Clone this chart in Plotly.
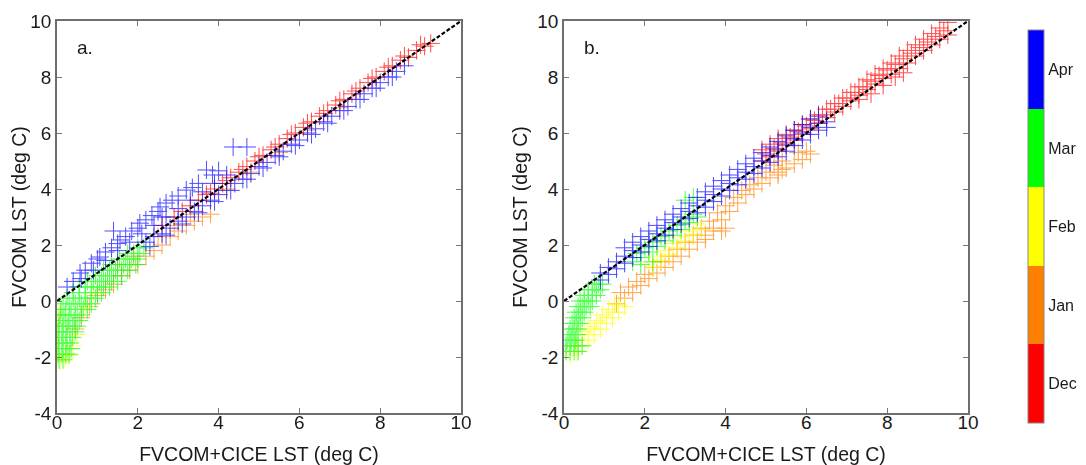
import plotly.graph_objects as go

months = ["Dec", "Jan", "Feb", "Mar", "Apr"]
month_colors = ["#FF0000", "#FF8000", "#FFFF00", "#00FF00", "#0000FF"]
y_tickvals = [-4, -2, 0, 2, 4, 6, 8, 10]
y_ticktext = ["-4", "-2", "0", "2", "4", "6", "8", "10"]
x_tickvals = [0, 2, 4, 6, 8, 10]
x_ticktext = ["0", "2", "4", "6", "8", "10"]
one_to_one = [0, 10]

# ---------------- Panel a ----------------
a_dec_x = [2.6, 2.9, 3.1, 3.3, 3.5, 3.7, 3.9, 4.1, 4.3, 4.5, 4.7, 4.9, 5.1, 5.3, 5.5, 5.7, 5.9, 6.1, 6.3, 6.5,
           6.7, 6.9, 7.1, 7.3, 7.5, 7.7, 7.9, 8.1, 8.3, 8.5, 8.7, 8.9, 9.1, 9.25, 9.0, 8.6, 8.2, 7.8, 7.4, 7.0,
           6.6, 6.2, 5.8, 5.4, 5.0, 4.6, 4.2, 3.8]
a_dec_y = [2.7, 3.0, 3.2, 3.4, 3.6, 3.8, 4.0, 4.2, 4.4, 4.6, 4.8, 5.0, 5.2, 5.4, 5.6, 5.8, 6.0, 6.2, 6.4, 6.6,
           6.8, 7.0, 7.2, 7.4, 7.6, 7.8, 8.0, 8.2, 8.4, 8.6, 8.7, 8.95, 9.1, 9.2, 9.15, 8.75, 8.35, 7.95, 7.5, 7.15,
           6.7, 6.35, 5.95, 5.5, 5.15, 4.7, 4.3, 3.85]
a_jan_x = [0.45, 0.6, 0.8, 1.0, 1.2, 1.4, 1.6, 1.8, 2.0, 2.2, 2.4, 2.6, 2.8, 3.0, 3.2, 3.4, 3.6, 3.8,
           2.5, 2.9, 3.3, 1.5, 1.9, 4.2, 4.8, 5.5, 6.2, 7.0]
a_jan_y = [-1.0, -0.6, -0.2, 0.2, 0.4, 0.6, 0.9, 1.1, 1.3, 1.6, 1.8, 2.0, 2.3, 2.5, 2.7, 2.85, 3.0, 3.1,
           2.3, 2.7, 3.1, 1.3, 1.6, 4.0, 4.6, 5.3, 6.1, 6.9]
a_feb_x = [0.0, 0.02, 0.0, 0.02, 0.0, 0.03, 0.08, 0.2, 0.3, 0.4, 0.5, 0.1, 0.7, 0.9]
a_feb_y = [-2.0, -1.7, -1.4, -1.1, -0.8, -0.5, -2.15, -2.05, -1.95, -1.6, -1.2, -0.3, -0.2, 0.3]
a_mar_x = [0.05, 0.15,
           0.03, 0.12, 0.22, 0.3,
           0.05, 0.15, 0.25, 0.35,
           0.03, 0.12, 0.22, 0.32,
           0.05, 0.15, 0.25, 0.38,
           0.03, 0.12, 0.22, 0.32, 0.45,
           0.05, 0.15, 0.25, 0.38, 0.5,
           0.05, 0.15, 0.28, 0.42, 0.55,
           0.08, 0.2, 0.32, 0.45, 0.6,
           0.1, 0.22, 0.35, 0.5, 0.65, 0.75,
           0.15, 0.3, 0.45, 0.6, 0.75, 0.85,
           0.25, 0.4, 0.55, 0.7, 0.85, 0.95,
           0.4, 0.55, 0.7, 0.85, 1.0, 1.1,
           0.55, 0.7, 0.85, 1.0, 1.15, 1.3,
           0.75, 0.9, 1.05, 1.2, 1.35, 1.5,
           0.95, 1.1, 1.25, 1.4, 1.6,
           1.15, 1.3, 1.45, 1.6, 1.75,
           1.35, 1.5, 1.65, 1.8, 1.95,
           1.55, 1.7, 1.85, 2.0,
           1.75, 1.9, 2.05,
           2.0, 2.15]
a_mar_y = [-2.1, -2.1,
           -1.9, -1.9, -1.9, -1.9,
           -1.7, -1.7, -1.7, -1.7,
           -1.5, -1.5, -1.5, -1.5,
           -1.3, -1.3, -1.3, -1.3,
           -1.1, -1.1, -1.1, -1.1, -1.1,
           -0.9, -0.9, -0.9, -0.9, -0.9,
           -0.7, -0.7, -0.7, -0.7, -0.7,
           -0.5, -0.5, -0.5, -0.5, -0.5,
           -0.3, -0.3, -0.3, -0.3, -0.3, -0.3,
           -0.1, -0.1, -0.1, -0.1, -0.1, -0.1,
           0.1, 0.1, 0.1, 0.1, 0.1, 0.1,
           0.3, 0.3, 0.3, 0.3, 0.3, 0.3,
           0.5, 0.5, 0.5, 0.5, 0.5, 0.5,
           0.7, 0.7, 0.7, 0.7, 0.7, 0.7,
           0.9, 0.9, 0.9, 0.9, 0.9,
           1.1, 1.1, 1.1, 1.1, 1.1,
           1.3, 1.3, 1.3, 1.3, 1.3,
           1.5, 1.5, 1.5, 1.5,
           1.7, 1.7, 1.7,
           1.9, 1.9]
a_apr_x = [2.2, 2.4, 2.6, 2.8, 3.0, 3.2, 3.4, 3.6, 3.8, 4.0, 4.2, 4.4, 4.6, 4.8, 5.0, 5.2, 5.4, 5.6, 5.8, 6.0,
           6.2, 6.4, 6.6, 6.8, 7.0, 7.2, 7.4, 7.6, 7.8, 8.0, 8.2, 8.4, 8.6,
           2.3, 2.7, 3.1, 3.5, 3.9, 4.3, 4.7, 5.1, 5.5, 5.9, 6.3, 6.7, 7.1, 7.5, 7.9, 8.3,
           0.25, 0.4, 0.57, 0.7, 0.85, 1.0, 1.06, 1.2, 1.35, 1.5, 1.56, 1.7, 1.85, 2.0, 2.05, 2.2, 2.35, 2.5,
           2.55, 2.7, 2.85, 3.0, 3.2, 3.35, 3.5, 3.7, 3.85, 4.0, 4.36, 4.7,
           0.6, 0.9, 1.2, 1.5, 1.8, 2.1, 2.4, 2.7, 3.0, 3.3, 3.6, 3.9, 4.2, 1.4, 2.6]
a_apr_y = [2.1, 2.3, 2.4, 2.6, 2.85, 3.0, 3.2, 3.4, 3.6, 3.8, 3.95, 4.2, 4.35, 4.55, 4.8, 4.95, 5.2, 5.35, 5.6, 5.75,
           6.0, 6.15, 6.4, 6.6, 6.8, 6.95, 7.2, 7.4, 7.6, 7.8, 8.0, 8.2, 8.4,
           1.95, 2.35, 2.75, 3.15, 3.55, 3.95, 4.35, 4.75, 5.15, 5.55, 5.95, 6.35, 6.8, 7.2, 7.6, 8.0,
           0.5, 0.7, 1.0, 1.1, 1.35, 1.5, 1.57, 1.75, 1.9, 2.05, 2.18, 2.3, 2.5, 2.6, 2.78, 2.9, 3.05, 3.2,
           3.36, 3.5, 3.6, 3.75, 3.96, 4.05, 4.2, 4.68, 4.5, 4.65, 5.5, 5.5,
           0.8, 1.1, 1.45, 1.8, 2.1, 2.4, 2.7, 3.0, 3.3, 3.6, 3.9, 4.2, 4.5, 2.5, 3.0]

# ---------------- Panel b ----------------
b_dec_x = [4.9, 5.1, 5.3, 5.5, 5.7, 5.9, 6.1, 6.3, 6.5, 6.7, 6.9, 7.1, 7.3, 7.5, 7.7, 7.9, 8.1, 8.3, 8.5, 8.7,
           8.9, 9.1, 9.3, 9.5,
           5.0, 5.2, 5.4, 5.6, 5.8, 6.0, 6.2, 6.4, 6.6, 6.8, 7.0, 7.2, 7.4, 7.6, 7.8, 8.0, 8.2, 8.4, 8.6, 8.8,
           9.0, 9.2, 9.4,
           4.9, 5.1, 5.3, 5.5, 5.7, 5.9, 6.1, 6.3, 6.5, 6.7, 6.9, 7.1, 7.3, 7.5, 7.7, 7.9, 8.1, 8.3, 8.5, 8.7,
           8.9, 9.1, 9.3, 9.5,
           7.6, 7.9, 8.2, 8.4, 7.3]
b_dec_y = [5.4, 5.6, 5.8, 5.95, 6.1, 6.3, 6.5, 6.65, 6.85, 7.05, 7.25, 7.45, 7.65, 7.9, 8.1, 8.3, 8.5, 8.75, 8.95, 9.15,
           9.35, 9.55, 9.75, 9.95,
           5.25, 5.45, 5.65, 5.85, 6.05, 6.25, 6.45, 6.65, 6.85, 7.05, 7.25, 7.45, 7.65, 7.85, 8.05, 8.25, 8.45, 8.65, 8.85, 9.05,
           9.25, 9.45, 9.65,
           5.0, 5.15, 5.35, 5.55, 5.75, 5.95, 6.15, 6.35, 6.55, 6.75, 6.95, 7.15, 7.35, 7.55, 7.75, 7.95, 8.1, 8.3, 8.5, 8.75,
           8.95, 9.15, 9.35, 9.5,
           7.4, 7.7, 8.0, 8.15, 7.2]
b_jan_x = [1.3, 1.5, 1.7, 1.9, 2.1, 2.3, 2.5, 2.7, 2.9, 3.1, 3.3, 3.5, 3.7, 3.9, 4.1, 4.3, 4.5, 4.7, 4.9, 5.1,
           5.3, 5.5, 5.7, 5.9, 6.1,
           1.4, 1.6, 1.8, 2.0, 2.2, 2.4, 2.6, 2.8, 3.0, 3.2, 3.4, 3.6, 3.8, 4.0, 4.2, 4.4, 4.6, 4.8, 5.0, 5.2, 5.4,
           3.7, 3.9, 3.5, 5.3, 5.4, 4.0, 5.8, 6.0]
b_jan_y = [-0.1, 0.1, 0.3, 0.55, 0.8, 1.0, 1.2, 1.4, 1.6, 1.85, 2.1, 2.35, 2.6, 2.9, 3.2, 3.5, 3.8, 4.0, 4.2, 4.4,
           4.6, 4.75, 4.9, 5.05, 5.25,
           0.3, 0.5, 0.7, 0.95, 1.2, 1.4, 1.6, 1.85, 2.1, 2.35, 2.6, 2.85, 3.15, 3.4, 3.7, 3.95, 4.15, 4.4, 4.6, 4.85, 5.0,
           2.5, 2.5, 2.2, 4.5, 4.7, 2.6, 5.3, 5.35]
b_feb_x = [0.15, 0.3, 0.45, 0.6, 0.75, 0.9, 1.05, 1.2, 1.35, 1.5,
           0.3, 0.45, 0.6, 0.75, 0.9, 1.05, 1.2, 1.35,
           0.5, 0.65, 0.8, 0.95, 1.1, 1.25,
           2.1, 2.3, 2.5, 2.7, 2.9, 3.1, 3.3,
           2.2, 2.4, 2.6, 2.8, 3.0, 3.2, 3.4]
b_feb_y = [-1.95, -1.8, -1.6, -1.4, -1.2, -1.0, -0.8, -0.6, -0.4, -0.2,
           -1.6, -1.4, -1.2, -1.0, -0.8, -0.6, -0.4, -0.15,
           -1.1, -0.9, -0.7, -0.5, -0.3, -0.1,
           1.4, 1.6, 1.8, 2.05, 2.3, 2.5, 2.75,
           1.2, 1.45, 1.65, 1.9, 2.15, 2.35, 2.55]
b_mar_x = [0.05, 0.15, 0.25, 0.35,
           0.05, 0.15, 0.25, 0.35, 0.45,
           0.08, 0.18, 0.28,
           0.12, 0.22, 0.32,
           0.15, 0.25, 0.35,
           0.2, 0.3, 0.4,
           0.25, 0.35, 0.45,
           0.3, 0.4, 0.5,
           0.35, 0.45, 0.55, 0.65,
           0.4, 0.5, 0.6, 0.7,
           0.5, 0.6, 0.7, 0.8,
           0.6, 0.7, 0.8, 0.9,
           0.75, 0.85, 0.95,
           1.7, 1.9, 2.1, 2.3, 2.5, 2.7, 2.9, 3.1, 3.3,
           1.8, 2.0, 2.2, 2.4, 2.6, 2.8, 3.0, 3.2,
           3.0, 3.2, 2.2, 1.9]
b_mar_y = [-1.8, -1.8, -1.8, -1.8,
           -1.6, -1.6, -1.6, -1.6, -1.6,
           -1.4, -1.4, -1.4,
           -1.2, -1.2, -1.2,
           -1.0, -1.0, -1.0,
           -0.8, -0.8, -0.8,
           -0.6, -0.6, -0.6,
           -0.4, -0.4, -0.4,
           -0.2, -0.2, -0.2, -0.2,
           0.0, 0.0, 0.0, 0.0,
           0.2, 0.2, 0.2, 0.2,
           0.4, 0.4, 0.4, 0.4,
           0.6, 0.6, 0.6,
           1.4, 1.55, 1.75, 1.95, 2.15, 2.35, 2.55, 2.8, 3.0,
           1.7, 1.9, 2.1, 2.3, 2.5, 2.7, 2.9, 3.1,
           3.6, 3.7, 1.4, 1.3]
b_apr_x = [0.9, 1.1, 1.3, 1.5, 1.7, 1.9, 2.1, 2.3, 2.5, 2.7, 2.9, 3.1, 3.3, 3.5, 3.7, 3.9, 4.1, 4.3, 4.5, 4.7,
           4.9, 5.1, 5.3, 5.5, 5.7, 5.9, 6.1, 6.3, 6.5,
           0.9, 1.1, 1.3, 1.5, 1.7, 1.9, 2.1, 2.3, 2.5, 2.7, 2.9, 3.1, 3.3, 3.5, 3.7, 3.9, 4.1, 4.3, 4.5, 4.7,
           4.9, 5.1, 5.3, 5.5, 5.7, 5.9, 6.1, 6.3, 6.5,
           1.5, 1.7, 1.9, 2.1, 2.3, 2.5, 2.7, 2.9, 3.1, 3.3, 3.5, 3.7, 3.9, 4.1, 4.3, 4.5, 4.7, 4.9, 5.1, 5.3,
           5.5, 5.7, 5.9, 6.1, 6.3]
b_apr_y = [0.75, 0.95, 1.15, 1.35, 1.55, 1.75, 1.95, 2.15, 2.35, 2.55, 2.75, 2.95, 3.15, 3.35, 3.55, 3.75, 3.95, 4.15, 4.35, 4.55,
           4.75, 4.95, 5.15, 5.35, 5.55, 5.75, 5.95, 6.1, 6.2,
           1.0, 1.2, 1.4, 1.6, 1.8, 2.0, 2.2, 2.4, 2.6, 2.8, 3.0, 3.2, 3.4, 3.6, 3.8, 4.0, 4.2, 4.4, 4.6, 4.8,
           5.0, 5.2, 5.4, 5.6, 5.8, 6.0, 6.2, 6.35, 6.4,
           1.9, 2.1, 2.3, 2.5, 2.7, 2.9, 3.1, 3.3, 3.5, 3.7, 3.9, 4.1, 4.3, 4.5, 4.7, 4.9, 5.1, 5.3, 5.5, 5.7,
           5.9, 6.1, 6.3, 6.5, 6.6]

panel_a = [(a_dec_x, a_dec_y), (a_jan_x, a_jan_y), (a_feb_x, a_feb_y), (a_mar_x, a_mar_y), (a_apr_x, a_apr_y)]
panel_b = [(b_dec_x, b_dec_y), (b_jan_x, b_jan_y), (b_feb_x, b_feb_y), (b_mar_x, b_mar_y), (b_apr_x, b_apr_y)]

FONT = "Liberation Sans, Arial, Helvetica, sans-serif"
TXT = "#1a1a1a"

# the page body adds an 8px offset, so the figure is laid out 8px smaller
OFF = 8
W, H = 1086 - OFF, 465 - OFF


def fx(px):
    return (px - OFF) / W


def fy(py):
    return 1 - (py - OFF) / H


fig = go.Figure()

for panel, (xa, ya) in ((panel_a, ("x", "y")), (panel_b, ("x2", "y2"))):
    for (xs, ys), col, name in zip(panel, month_colors, months):
        fig.add_trace(go.Scatter(
            x=xs, y=ys, mode="markers", name=name, xaxis=xa, yaxis=ya,
            showlegend=False, opacity=0.7,
            marker=dict(symbol="cross-thin", size=13, color=col, line=dict(color=col, width=1)),
        ))
    fig.add_trace(go.Scatter(
        x=one_to_one, y=one_to_one, mode="lines", xaxis=xa, yaxis=ya, showlegend=False,
        line=dict(color="black", width=2.2, dash="4px,2px"),
    ))

# discrete month colour bar
fig.add_trace(go.Scatter(
    x=[None], y=[None], mode="markers", showlegend=False, xaxis="x2", yaxis="y2",
    marker=dict(
        color=[1], cmin=0.5, cmax=5.5, showscale=True,
        colorscale=[[0, month_colors[0]], [0.2, month_colors[0]], [0.2, month_colors[1]], [0.4, month_colors[1]],
                    [0.4, month_colors[2]], [0.6, month_colors[2]], [0.6, month_colors[3]], [0.8, month_colors[3]],
                    [0.8, month_colors[4]], [1, month_colors[4]]],
        colorbar=dict(
            x=fx(1028), xanchor="left", xpad=0, y=fy(226.5), yanchor="middle", ypad=0,
            len=393 / H, lenmode="fraction", thickness=16, thicknessmode="pixels",
            tickvals=[1, 2, 3, 4, 5], ticktext=months, ticks="",
            outlinewidth=1, outlinecolor="#888", tickfont=dict(size=16, family=FONT, color=TXT),
        ),
    ),
))

ydom = [fy(413), fy(21)]
axis_common = dict(
    showgrid=False, zeroline=False, showline=True, linecolor="#6e6e6e", linewidth=1.6, mirror="ticks",
    ticks="inside", ticklen=5, tickcolor="#777", tickfont=dict(size=19, family=FONT, color=TXT),
    automargin=False,
)
title_font = dict(size=19.5, family=FONT, color=TXT)

fig.update_layout(
    width=W, height=H, margin=dict(l=0, r=0, t=0, b=0),
    plot_bgcolor="white", paper_bgcolor="white",
    xaxis=dict(domain=[fx(57), fx(461)], range=[0, 10], tickvals=x_tickvals, ticktext=x_ticktext, anchor="y",
               ticklabelstandoff=-9,
               title=dict(text="FVCOM+CICE LST (deg C)", font=title_font, standoff=18), **axis_common),
    yaxis=dict(domain=ydom, range=[-4, 10], tickvals=y_tickvals, ticktext=y_ticktext, anchor="x",
               title=dict(text="FVCOM LST (deg C)", font=title_font, standoff=4), **axis_common),
    xaxis2=dict(domain=[fx(564), fx(968)], range=[0, 10], tickvals=x_tickvals, ticktext=x_ticktext, anchor="y2",
                ticklabelstandoff=-9,
                title=dict(text="FVCOM+CICE LST (deg C)", font=title_font, standoff=18), **axis_common),
    yaxis2=dict(domain=ydom, range=[-4, 10], tickvals=y_tickvals, ticktext=y_ticktext, anchor="x2",
                title=dict(text="FVCOM LST (deg C)", font=title_font, standoff=4), **axis_common),
    annotations=[
        dict(text="a.", x=0.45, y=9.07, xref="x", yref="y", showarrow=False, xanchor="left",
             font=dict(size=19, family=FONT, color=TXT)),
        dict(text="b.", x=0.45, y=9.07, xref="x2", yref="y2", showarrow=False, xanchor="left",
             font=dict(size=19, family=FONT, color=TXT)),
    ],
)

fig.write_html("out.html")
